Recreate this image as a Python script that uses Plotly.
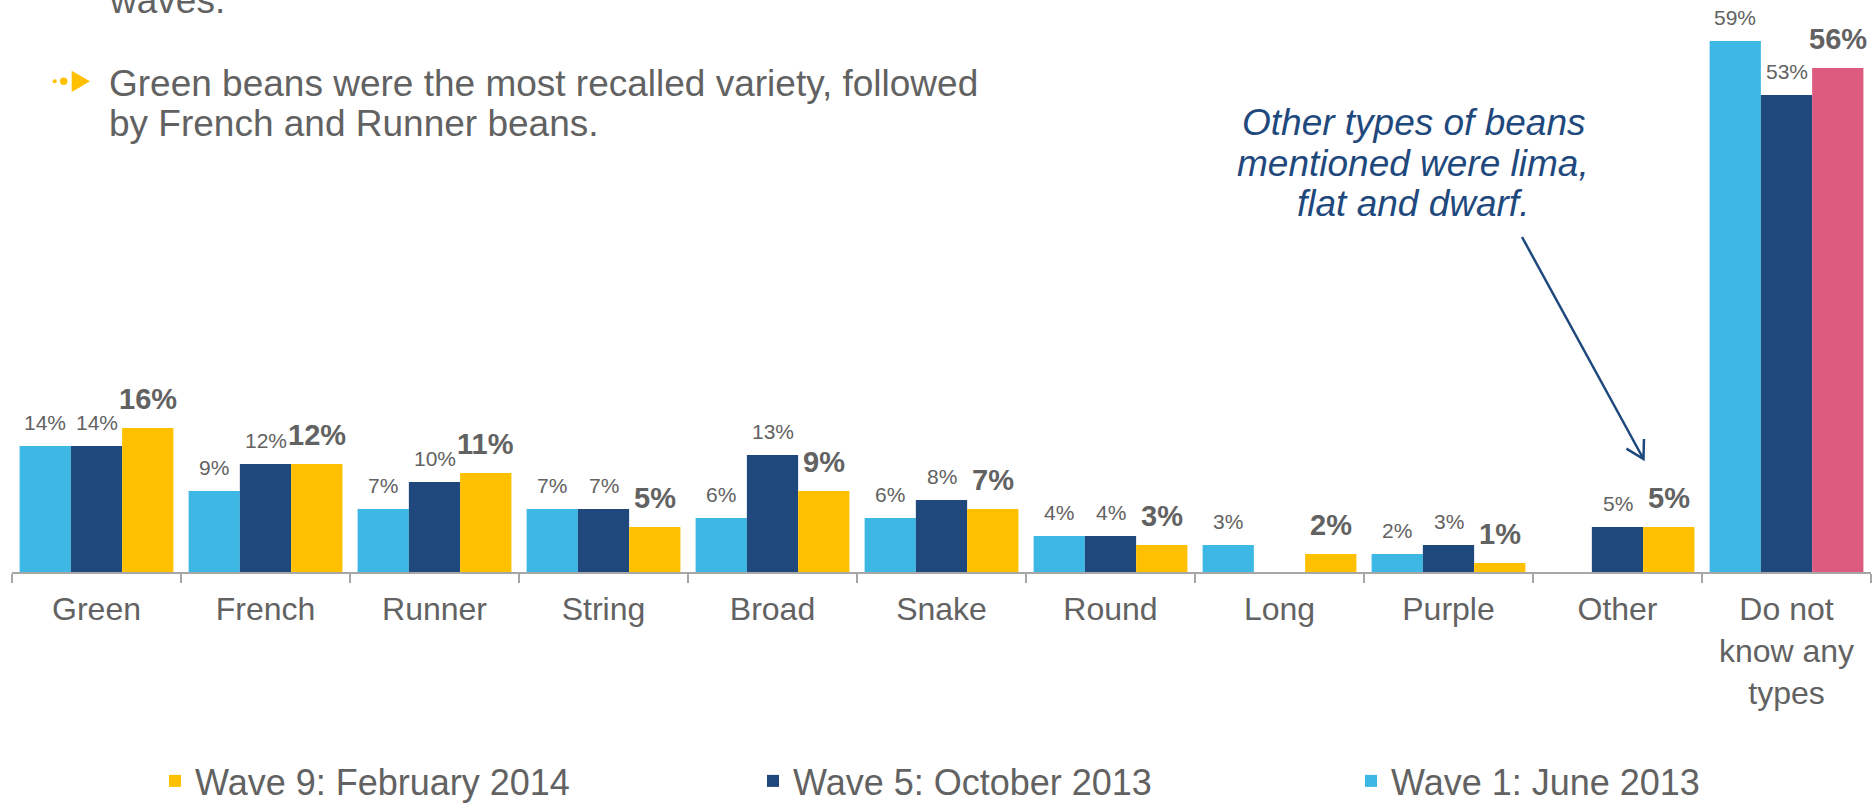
import math
import plotly.graph_objects as go

# ---- data -------------------------------------------------------------
categories = ["Green", "French", "Runner", "String", "Broad", "Snake", "Round",
              "Long", "Purple", "Other", "Do not<br>know any<br>types"]
wave1_jun2013 = [14, 9, 7, 7, 6, 6, 4, 3, 2, None, 59]
wave5_oct2013 = [14, 12, 10, 7, 13, 8, 4, None, 3, 5, 53]
wave9_feb2014 = [16, 12, 11, 5, 9, 7, 3, 2, 1, 5, 56]
series_names = ["Wave 1: June 2013", "Wave 5: October 2013", "Wave 9: February 2014"]

bullet_lines = ["waves.",
                "Green beans were the most recalled variety, followed",
                "by French and Runner beans."]
callout_lines = ["Other types of beans", "mentioned were lima,", "flat and dwarf."]

# ---- page geometry / style -------------------------------------------
W, H = 1873, 804
L, R, T, B = 12, 2, 0, 232
PW, PH = W - L - R, H - T - B
PX_PER_PCT = 9
BARGAP = 0.09

LIGHT = "#3DB7E4"
DARK = "#1F497D"
GOLD = "#FFC000"
PINK = "#DC5B7E"
GREY = "#626262"
AXIS = "#A6A6A6"
FONT = "Arial, Liberation Sans, sans-serif"


def px(X):
    return (X - L) / PW


def py(Y):
    return (T + PH - Y) / PH


wave9_colors = [PINK if c.startswith("Do not") else GOLD for c in categories]

fig = go.Figure()
for name, vals, col in [(series_names[0], wave1_jun2013, LIGHT),
                        (series_names[1], wave5_oct2013, DARK),
                        (series_names[2], wave9_feb2014, wave9_colors)]:
    fig.add_trace(go.Bar(name=name, x=categories, y=vals,
                         marker=dict(color=col, line=dict(width=0))))

annotations = []
# value labels above each bar
slot = (1 - BARGAP) / 3
for k, vals in enumerate([wave1_jun2013, wave5_oct2013, wave9_feb2014]):
    bold = k == 2
    for i, v in enumerate(vals):
        if v is None:
            continue
        annotations.append(dict(
            x=i + (k - 1) * slot, y=v, xref="x", yref="y",
            text=f"<b>{v}%</b>" if bold else f"{v}%",
            showarrow=False, yanchor="bottom", xanchor="center",
            yshift=11 if bold else 10,
            font=dict(family=FONT, size=29 if bold else 21, color=GREY)))

# bullet text, top left
for line, yc in zip(bullet_lines, [0, 83, 124]):
    annotations.append(dict(
        x=px(107), y=py(yc), xref="paper", yref="paper", text=line,
        showarrow=False, xanchor="left", yanchor="middle",
        font=dict(family=FONT, size=37, color=GREY)))

# callout text
for line, yc in zip(callout_lines, [122, 163, 203]):
    annotations.append(dict(
        x=px(1413), y=py(yc), xref="paper", yref="paper",
        text=f"<i>{line}</i>", showarrow=False,
        xanchor="center", yanchor="middle",
        font=dict(family=FONT, size=37, color=DARK)))

shapes = []
# bullet glyph: two dots and a triangle
shapes.append(dict(type="circle", xref="paper", yref="paper",
                   x0=px(52.7), x1=px(56.7), y0=py(83.3), y1=py(79.3),
                   fillcolor=GOLD, line=dict(width=0)))
shapes.append(dict(type="circle", xref="paper", yref="paper",
                   x0=px(60.0), x1=px(67.4), y0=py(85.0), y1=py(77.6),
                   fillcolor=GOLD, line=dict(width=0)))
shapes.append(dict(type="path", xref="paper", yref="paper",
                   path=f"M{px(71.7)},{py(70.7)} L{px(71.7)},{py(92)} L{px(90)},{py(81.3)} Z",
                   fillcolor=GOLD, line=dict(width=0)))

# callout arrow with an open head
tail = (1522, 237)
tip = (1643.5, 459)
dx, dy = tip[0] - tail[0], tip[1] - tail[1]
n = math.hypot(dx, dy)
dx, dy = dx / n, dy / n
wings = []
for a in (math.radians(30), math.radians(-30)):
    rx = math.cos(a) * dx - math.sin(a) * dy
    ry = math.sin(a) * dx + math.cos(a) * dy
    wings.append((tip[0] - 20 * rx, tip[1] - 20 * ry))
arrow_path = (f"M{px(tail[0])},{py(tail[1])} L{px(tip[0])},{py(tip[1])} "
              f"M{px(wings[0][0])},{py(wings[0][1])} L{px(tip[0])},{py(tip[1])} "
              f"L{px(wings[1][0])},{py(wings[1][1])}")
shapes.append(dict(type="path", xref="paper", yref="paper", path=arrow_path,
                   line=dict(color=DARK, width=2.5)))

fig.update_layout(
    width=W, height=H,
    margin=dict(l=L, r=R, t=T, b=B, pad=0),
    paper_bgcolor="white", plot_bgcolor="white",
    barmode="group", bargap=BARGAP, bargroupgap=0,
    font=dict(family=FONT, color=GREY),
    showlegend=True,
    legend=dict(orientation="h", traceorder="reversed",
                xref="container", yref="container",
                x=155 / W, y=1 - 781 / H, xanchor="left", yanchor="middle",
                entrywidth=553, entrywidthmode="pixels",
                font=dict(family=FONT, size=36, color=GREY),
                bgcolor="rgba(0,0,0,0)"),
    xaxis=dict(type="category", range=[-0.5, len(categories) - 0.5],
               showline=True, linecolor=AXIS, linewidth=2,
               ticks="outside", tickson="boundaries", ticklen=9,
               tickcolor=AXIS, tickwidth=2, ticklabelstandoff=8,
               tickfont=dict(family=FONT, size=32, color=GREY),
               showgrid=False, zeroline=False),
    yaxis=dict(range=[0, PH / PX_PER_PCT], visible=False,
               showgrid=False, zeroline=False),
    annotations=annotations,
    shapes=shapes,
)

fig.write_html("out.html")
